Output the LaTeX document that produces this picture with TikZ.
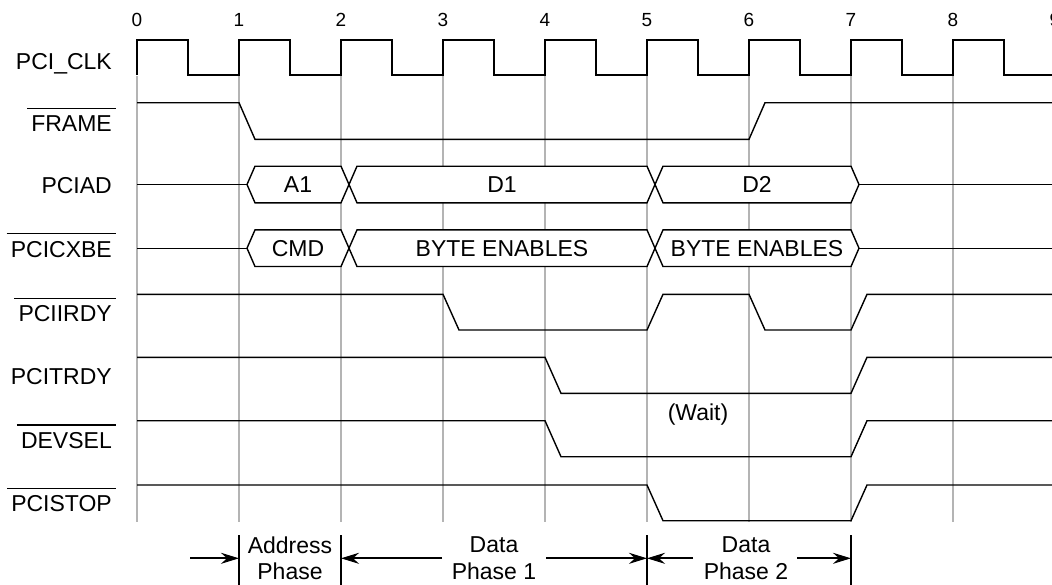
\documentclass[tikz,border=0pt]{standalone}
\usepackage{fontspec}
\setmainfont{Liberation Sans}
\usetikzlibrary{arrows.meta}
\definecolor{gridgray}{RGB}{180,180,180}
\newcommand\hexbus[5]{% #1 start tick, #2 end tick, #3 mid y, #4 name, #5 text
  \draw[bus] ({#1+8},#3) -- ({#1+16},{#3-18.3}) -- (#2,{#3-18.3}) -- ({#2+8},#3)
     -- (#2,{#3+18.3}) -- ({#1+16},{#3+18.3}) -- cycle;
  \node[val] (#4) at ({(#1+16+#2)/2},{#3+8}) {#5};}
\begin{document}
\begin{tikzpicture}[x=1pt,y=-1pt,
  grid/.style={draw=gridgray, line width=1.5pt},
  clk/.style={line width=2.2pt, line join=miter},
  wave/.style={line width=1.4pt},
  bus/.style={line width=1.4pt, fill=white},
  sig/.style={anchor=base east, inner xsep=4pt, inner ysep=7pt, font=\fontsize{23}{27}\selectfont},
  ovl/.style={line width=1.5pt},
  num/.style={anchor=base, inner sep=0pt, font=\fontsize{19}{22}\selectfont},
  val/.style={anchor=base, inner sep=0pt, font=\fontsize{23}{27}\selectfont},
  phase/.style={align=center, inner sep=0pt, font=\fontsize{23}{26.7}\selectfont},
  bar/.style={line width=2pt},
  parrow/.style={line width=2pt, -{Stealth[length=18pt,width=11pt,inset=6pt]}}
]
\fill[white] (0,0) rectangle (1052,584);
\useasboundingbox (0,0) rectangle (1052,584);

% grid
\foreach \x in {137,239,341,443,545,647,749,851,953}
  \draw[grid] (\x,76) -- (\x,522);

% tick numbers
\foreach \i in {0,...,9}
  \node[num] (n\i) at ({137+102*\i},26) {\i};

% clock
\draw[clk] (137,75)--(137,40)--(188,40)--(188,75)--(239,75)--(239,40)--(290,40)--(290,75)--(341,75)--(341,40)--(392,40)--(392,75)--(443,75)--(443,40)--(494,40)--(494,75)--(545,75)--(545,40)--(596,40)--(596,75)--(647,75)--(647,40)--(698,40)--(698,75)--(749,75)--(749,40)--(800,40)--(800,75)--(851,75)--(851,40)--(902,40)--(902,75)--(953,75)--(953,40)--(1004,40)--(1004,75)--(1060,75);

% FRAME
\draw[wave] (137,102.7)--(239,102.7)--(255,139.3)--(749,139.3)--(765,102.7)--(1060,102.7);

% PCIAD
\draw[wave] (137,184.5)--(247,184.5);
\hexbus{239}{341}{184.5}{va1}{A1}
\hexbus{341}{647}{184.5}{vd1}{D1}
\hexbus{647}{851}{184.5}{vd2}{D2}
\draw[wave] (859,184.5)--(1060,184.5);

% PCICXBE
\draw[wave] (137,248.2)--(247,248.2);
\hexbus{239}{341}{248.2}{vcmd}{CMD}
\hexbus{341}{647}{248.2}{vbe1}{BYTE ENABLES}
\hexbus{647}{851}{248.2}{vbe2}{BYTE ENABLES}
\draw[wave] (859,248.2)--(1060,248.2);

% PCIIRDY
\draw[wave] (137,294.3)--(443,294.3)--(459,330)--(647,330)--(663,294.3)--(749,294.3)--(765,330)--(851,330)--(867,294.3)--(1060,294.3);
% PCITRDY
\draw[wave] (137,357.3)--(545,357.3)--(561,393.3)--(851,393.3)--(867,357.3)--(1060,357.3);
% DEVSEL
\draw[wave] (137,420.7)--(545,420.7)--(561,456.7)--(851,456.7)--(867,420.7)--(1060,420.7);
% PCISTOP
\draw[wave] (137,485)--(647,485)--(663,520.7)--(851,520.7)--(867,485)--(1060,485);

\node[val] (wait) at (698,420) {(Wait)};

% signal labels
\node[sig] (lclk)  at (116,69.5)  {PCI\_CLK};
\node[sig] (lfr)   at (116,131.5) {FRAME};
\node[sig] (lad)   at (116,193)   {PCIAD};
\node[sig] (lbe)   at (116,257)   {PCICXBE};
\node[sig] (lirdy) at (116,321.7) {PCIIRDY};
\node[sig] (ltrdy) at (116,384)   {PCITRDY};
\node[sig] (ldev)  at (116,448.3) {DEVSEL};
\node[sig] (lstop) at (116,511.7) {PCISTOP};
\foreach \n in {lfr,lbe,lirdy,ldev,lstop}
  \draw[ovl] (\n.north west) -- (\n.north east);

% phases
\node[phase] (pa)  at (290,558.3) {Address\\Phase};
\node[phase] (pd1) at (494,558.3) {Data\\Phase 1};
\node[phase] (pd2) at (746,558.3) {Data\\Phase 2};

\foreach \x/\nm in {239/b1,341/b2,647/b5,851/b7}{
  \coordinate (\nm top) at (\x,535);
  \coordinate (\nm bot) at (\x,590);
  \coordinate (\nm) at (\x,558.3);
  \draw[bar] (\nm top) -- (\nm bot);
}
\coordinate (s0) at (190,558.3);
\coordinate (s1) at (442,558.3);
\coordinate (s2) at (546,558.3);
\coordinate (s3) at (693,558.3);
\coordinate (s4) at (797,558.3);
\draw[parrow] (s0) -- (b1);
\draw[parrow] (s1) -- (b2);
\draw[parrow] (s2) -- (b5);
\draw[parrow] (s3) -- (b5);
\draw[parrow] (s4) -- (b7);
\end{tikzpicture}
\end{document}
